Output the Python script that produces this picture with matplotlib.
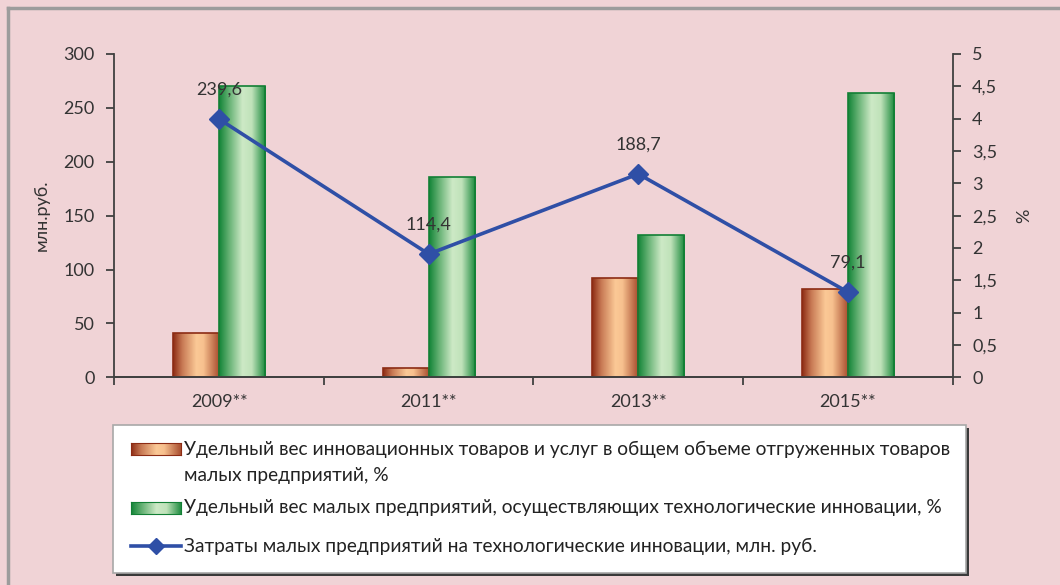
import numpy as np
import matplotlib
matplotlib.use("Agg")
import matplotlib.pyplot as plt
from matplotlib.colors import LinearSegmentedColormap
from matplotlib.patches import Rectangle
from matplotlib.lines import Line2D
from matplotlib.ticker import FuncFormatter

years = ["2009**", "2011**", "2013**", "2015**"]
share_goods = [0.68, 0.14, 1.53, 1.36]        # %, right axis
share_firms = [4.5, 3.1, 2.2, 4.4]            # %, right axis
costs = [239.6, 114.4, 188.7, 79.1]           # млн.руб., left axis

lbl_goods = "Удельный вес инновационных товаров и услуг в общем объеме отгруженных товаров"
lbl_goods2 = "малых предприятий, %"
lbl_firms = "Удельный вес малых предприятий, осуществляющих технологические инновации, %"
lbl_costs = "Затраты малых предприятий на технологические инновации, млн. руб."

BG = "#f0d3d6"
TXT = "#333333"
LINE = "#2f4fa6"
plt.rcParams["font.family"] = ["Lato", "DejaVu Sans"]

orange_cm = LinearSegmentedColormap.from_list(
    "or", [(0, "#8c2b14"), (0.2, "#c87a55"), (0.5, "#fbc996"), (0.65, "#f7c08e"), (1, "#a4482a")])
green_cm = LinearSegmentedColormap.from_list(
    "gr", [(0, "#128437"), (0.2, "#5fae6f"), (0.5, "#cde9c6"), (0.7, "#bfe2b9"), (1, "#17873a")])

fig = plt.figure(figsize=(10.6, 5.85), dpi=100, facecolor=BG)
ax = fig.add_axes([0.1078, 0.355, 0.791, 0.5527])
ax2 = ax.twinx()
ax.set_zorder(ax2.get_zorder() + 1)
ax.patch.set_visible(False)
ax2.patch.set_visible(False)

x = np.arange(len(years))
w = 0.22
grad = np.linspace(0, 1, 256).reshape(1, -1)
for vals, off, cm, edge in [(share_goods, -0.11, orange_cm, "#8c2b14"),
                            (share_firms, 0.11, green_cm, "#127f35")]:
    bars = ax2.bar(x + off, vals, w, facecolor="none", edgecolor=edge, linewidth=1.2, zorder=3)
    for b in bars:
        bx, by, bw, bh = b.get_x(), b.get_y(), b.get_width(), b.get_height()
        im = ax2.imshow(grad, cmap=cm, extent=[bx, bx + bw, by, by + bh],
                        aspect="auto", zorder=2, interpolation="bilinear")
        im.set_clip_path(b)

ax2.set_xlim(-0.5, 3.5)
ax2.set_ylim(0, 5)
ax2.set_yticks(np.arange(0, 5.01, 0.5))
ax2.yaxis.set_major_formatter(FuncFormatter(lambda v, p: f"{v:g}".replace(".", ",")))

ax.plot(x, costs, color=LINE, lw=2.6, marker="D", ms=10, zorder=5)
for xi, c in zip(x, costs):
    ax.annotate(f"{c:.1f}".replace(".", ","), (xi, c), xytext=(0, 21), textcoords="offset points",
                ha="center", va="center", fontsize=13, color=TXT)
ax.set_xlim(-0.5, 3.5)
ax.set_ylim(0, 300)
ax.set_yticks(np.arange(0, 301, 50))

ax.set_xticks(np.arange(-0.5, 3.6, 1))
ax.set_xticklabels([])
ax.set_xticks(x, minor=True)
ax.set_xticklabels(years, minor=True)
ax.tick_params(axis="x", which="minor", length=0, pad=12, labelsize=13, labelcolor=TXT)
ax.tick_params(axis="x", which="major", length=6, width=1.3, color="#404040", direction="out")
ax.tick_params(axis="y", length=6, width=1.3, color="#404040", labelsize=13, labelcolor=TXT, pad=8)
ax2.tick_params(axis="y", length=6, width=1.3, color="#404040", labelsize=13, labelcolor=TXT, pad=8)
ax2.tick_params(axis="x", which="both", length=0, labelbottom=False)

for a in (ax, ax2):
    a.spines["top"].set_visible(False)
    for s in ("left", "right", "bottom"):
        a.spines[s].set_color("#404040")
        a.spines[s].set_linewidth(1.3)
ax.spines["right"].set_visible(False)
ax2.spines["left"].set_visible(False)

ax.set_ylabel("млн.руб.", fontsize=13, color=TXT, labelpad=10)
ax2.set_ylabel("%", fontsize=13, color=TXT, labelpad=14)

# outer frame (top and left edges visible)
fig.add_artist(Line2D([8 / 1060, 8 / 1060], [0, 1 - 8 / 585], transform=fig.transFigure, color="#9c9c9c", lw=2.5))
fig.add_artist(Line2D([8 / 1060, 1], [1 - 8 / 585, 1 - 8 / 585], transform=fig.transFigure, color="#9c9c9c", lw=2.5))

# legend box drawn manually
def fx(px):
    return px / 1060

def fy(py):
    return 1 - py / 585

fig.add_artist(Rectangle((fx(116), fy(576)), fx(853), 148 / 585, transform=fig.transFigure,
                         facecolor="#3a3a3a", edgecolor="none", zorder=1))
fig.add_artist(Rectangle((fx(113), fy(573)), fx(853), 148 / 585, transform=fig.transFigure,
                         facecolor="white", edgecolor="#a8a8a8", lw=1.2, zorder=2))

legfont = dict(fontsize=13.8, color="#222222", va="center", ha="left", zorder=4,
               family=["Liberation Sans Narrow", "Lato", "DejaVu Sans"])
for ypx, cm, edge in [(449, orange_cm, "#8c2b14"), (508, green_cm, "#127f35")]:
    ax_h = fig.add_axes([fx(131), fy(ypx + 6), fx(50), 12 / 585])
    ax_h.imshow(grad, cmap=cm, aspect="auto", interpolation="bilinear")
    ax_h.set_xticks([])
    ax_h.set_yticks([])
    for s in ax_h.spines.values():
        s.set_color(edge)
    ax_h.set_zorder(5)
fig.add_artist(Line2D([fx(131), fx(181)], [fy(546), fy(546)], transform=fig.transFigure,
                      color=LINE, lw=2.6, zorder=4))
fig.add_artist(Line2D([fx(156)], [fy(546)], transform=fig.transFigure, color=LINE,
                      marker="D", ms=8, lw=0, zorder=5))
fig.text(fx(184), fy(449), lbl_goods, **legfont)
fig.text(fx(184), fy(476), lbl_goods2, **legfont)
fig.text(fx(184), fy(508), lbl_firms, **legfont)
fig.text(fx(184), fy(546), lbl_costs, **legfont)

fig.savefig("out.png", dpi=100, facecolor=BG)
